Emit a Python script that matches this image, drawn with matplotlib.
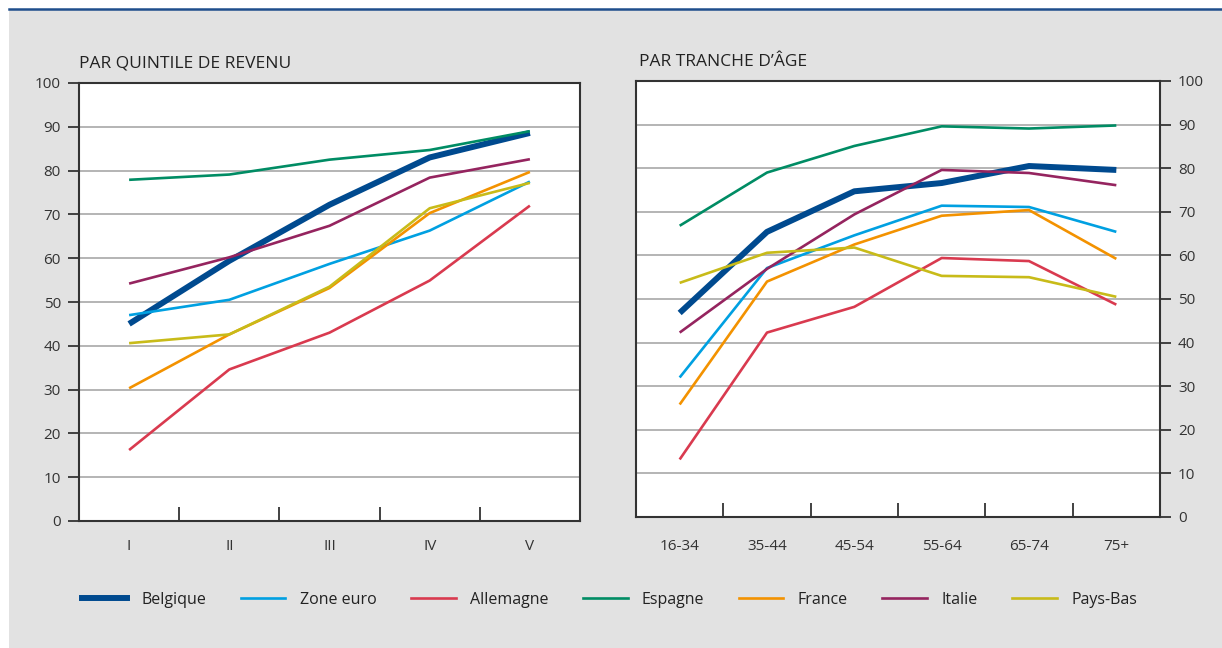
import numpy as np
import matplotlib.pyplot as plt
from matplotlib.patches import Rectangle
from matplotlib.lines import Line2D

plt.rcParams['font.family'] = ['Open Sans', 'DejaVu Sans']

# data
quintiles = ['I', 'II', 'III', 'IV', 'V']
ages = ['16-34', '35-44', '45-54', '55-64', '65-74', '75+']
countries = ['Belgique', 'Zone euro', 'Allemagne', 'Espagne', 'France', 'Italie', 'Pays-Bas']

belgique_q = [45.0, 59.4, 72.2, 83.0, 88.6]
zone_euro_q = [47.0, 50.5, 58.7, 66.3, 77.5]
allemagne_q = [16.2, 34.6, 43.0, 54.9, 72.0]
espagne_q = [77.9, 79.1, 82.5, 84.7, 89.0]
france_q = [30.3, 42.6, 53.2, 70.3, 79.7]
italie_q = [54.2, 60.2, 67.4, 78.4, 82.6]
pays_bas_q = [40.6, 42.6, 53.5, 71.4, 77.2]

belgique_a = [46.8, 65.4, 74.7, 76.6, 80.5, 79.6]
zone_euro_a = [32.0, 57.1, 64.6, 71.4, 71.1, 65.4]
allemagne_a = [13.2, 42.3, 48.2, 59.4, 58.7, 48.7]
espagne_a = [66.8, 79.0, 85.1, 89.6, 89.1, 89.8]
france_a = [25.8, 54.0, 62.5, 69.1, 70.4, 59.2]
italie_a = [42.3, 56.9, 69.4, 79.6, 78.9, 76.1]
pays_bas_a = [53.7, 60.6, 61.8, 55.3, 55.0, 50.5]

by_quintile = [belgique_q, zone_euro_q, allemagne_q, espagne_q, france_q, italie_q, pays_bas_q]
by_age = [belgique_a, zone_euro_a, allemagne_a, espagne_a, france_a, italie_a, pays_bas_a]

colors = ['#004a8f', '#00a0e1', '#d93a4f', '#008c64', '#f39200', '#95245f', '#c8bb19']
widths = [4.3, 1.9, 1.9, 1.9, 1.9, 1.9, 1.9]

bg = '#e2e2e2'
dark = '#333333'

fig = plt.figure(figsize=(12.22, 6.48), dpi=100)
fig.patch.set_facecolor('white')
fig.patches.append(Rectangle((9 / 1222, 0), 1, 1 - 10 / 648, transform=fig.transFigure,
                             facecolor=bg, edgecolor='none', zorder=-10))
fig.lines.append(Line2D([9 / 1222, 1], [1 - 9 / 648] * 2, transform=fig.transFigure,
                        color='#1f4e8c', lw=1.8))

ax1 = fig.add_axes([79 / 1222, 127 / 648, 501 / 1222, 438 / 648])
ax2 = fig.add_axes([636 / 1222, 131 / 648, 524 / 1222, 436 / 648])


def style(ax, labels, right=False, pad=16):
    n = len(labels)
    ax.set_xlim(-0.5, n - 0.5)
    ax.set_ylim(0, 100)
    ax.set_facecolor('white')
    ax.set_xticks(np.arange(n))
    ax.set_xticklabels(labels)
    ax.set_xticks(np.arange(n - 1) + 0.5, minor=True)
    ax.tick_params(axis='x', which='major', length=0, pad=pad, labelsize=11, labelcolor=dark)
    ax.tick_params(axis='x', which='minor', direction='in', length=10, width=1.3, color=dark)
    ax.set_yticks(np.arange(0, 101, 10))
    ax.tick_params(axis='y', direction='out', length=8, width=1.3, color=dark,
                   labelsize=11, labelcolor=dark, pad=5)
    if right:
        ax.yaxis.tick_right()
    ax.grid(axis='y', color='#a8a8a8', lw=1.2)
    ax.set_axisbelow(True)
    for s in ax.spines.values():
        s.set_color(dark)
        s.set_linewidth(1.5)


for vals, c, w, name in zip(by_quintile, colors, widths, countries):
    ax1.plot(np.arange(len(quintiles)), vals, color=c, lw=w, label=name, solid_capstyle='butt')
for vals, c, w in zip(by_age, colors, widths):
    ax2.plot(np.arange(len(ages)), vals, color=c, lw=w, solid_capstyle='butt')

style(ax1, quintiles, pad=13)
style(ax2, ages, right=True, pad=16)

fig.text(79 / 1222, 1 - 67 / 648, 'PAR QUINTILE DE REVENU', fontsize=12.5, color='#222222')
fig.text(639 / 1222, 1 - 66 / 648, 'PAR TRANCHE D\u2019\u00c2GE', fontsize=12.5, color='#222222')

handles = [Line2D([], [], color=c, lw=w) for c, w in zip(colors, widths)]
fig.legend(handles, countries, loc='center left', bbox_to_anchor=(68 / 1222, 48 / 648),
           ncol=7, frameon=False, fontsize=11.5, handlelength=2.8, handletextpad=0.9,
           columnspacing=2.15, labelcolor='#222222')

fig.savefig('out.png', dpi=100, facecolor=fig.get_facecolor())
